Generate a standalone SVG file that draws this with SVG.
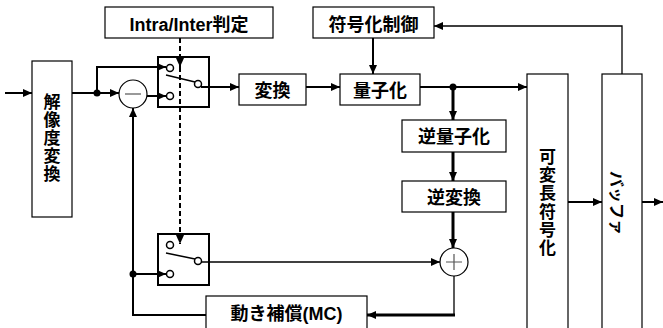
<svg xmlns="http://www.w3.org/2000/svg" width="663" height="328" viewBox="0 0 663 328">
<style>
.box{fill:#fff;stroke:#000;stroke-width:1.2}
.sw{fill:#fff;stroke:#000;stroke-width:2}
.term{fill:#fff;stroke:#000;stroke-width:1.5}
.t{font-family:"Liberation Sans","Noto Sans CJK JP",sans-serif;font-weight:bold;font-size:18px;fill:#000;text-anchor:middle}
.v{font-size:17px}
.w{fill:none;stroke:#000;stroke-width:2}
.k{fill:none;stroke:#000;stroke-width:3}
.n{fill:none;stroke:#000;stroke-width:1.3}
.d{fill:none;stroke:#000;stroke-width:2;stroke-dasharray:5 3}
.dot{fill:#000}
</style>
<defs>
<marker id="ah" markerUnits="userSpaceOnUse" markerWidth="9" markerHeight="8" refX="9" refY="4" orient="auto">
<path d="M0,0 L9,4 L0,8 z" fill="#000"/>
</marker>
</defs>
<rect width="663" height="328" fill="#fff"/>
<g id="kaizoudo">
<rect class="box" x="32" y="61" width="40" height="156"/>
<text class="t v"><tspan x="52" y="108">解</tspan><tspan x="52" y="126">像</tspan><tspan x="52" y="144">度</tspan><tspan x="52" y="162">変</tspan><tspan x="52" y="180">換</tspan></text>
</g>
<g id="intrainter">
<rect class="box" x="105" y="7" width="168" height="31"/>
<text class="t" x="189" y="31">Intra/Inter判定</text>
</g>
<g id="minus">
<circle class="box" cx="133" cy="94" r="14"/>
<path d="M125,94 H141" stroke="#555" stroke-width="1.2"/>
</g>
<g id="switch1">
<rect class="sw" x="158" y="57" width="51" height="50"/>
<path d="M166,75 L195,82" stroke="#000" stroke-width="1.5"/>
<circle class="term" cx="170" cy="68" r="3.5"/>
<circle class="term" cx="170" cy="96" r="3.5"/>
<circle class="term" cx="198" cy="84" r="3.5"/>
</g>
<g id="switch2">
<rect class="sw" x="158" y="234" width="51" height="51"/>
<path d="M166,253 L195,259" stroke="#000" stroke-width="1.5"/>
<circle class="term" cx="170" cy="245" r="3.5"/>
<circle class="term" cx="170" cy="274" r="3.5"/>
<circle class="term" cx="198" cy="261" r="3.5"/>
</g>
<g id="henkan">
<rect class="box" x="239" y="74" width="67" height="31"/>
<text class="t" x="272.5" y="97">変換</text>
</g>
<g id="ryoushika">
<rect class="box" x="340" y="74" width="80" height="31"/>
<text class="t" x="380" y="97">量子化</text>
</g>
<g id="fugoukaseigyo">
<rect class="box" x="313" y="7" width="121" height="31"/>
<text class="t" x="373.5" y="31">符号化制御</text>
</g>
<g id="gyakuryoushika">
<rect class="box" x="402" y="120" width="104" height="32"/>
<text class="t" x="454" y="143">逆量子化</text>
</g>
<g id="gyakuhenkan">
<rect class="box" x="402" y="181" width="104" height="31"/>
<text class="t" x="454" y="204">逆変換</text>
</g>
<g id="plus">
<circle class="box" cx="454" cy="262" r="14"/>
<path d="M446,262 H462 M454,254 V270" stroke="#555" stroke-width="1.2"/>
</g>
<g id="mc">
<rect class="box" x="206" y="296" width="161" height="40"/>
<text class="t" x="286.5" y="320">動き補償(MC)</text>
</g>
<g id="kahenchou">
<rect class="box" x="527" y="74" width="41" height="262"/>
<text class="t v"><tspan x="547.5" y="163">可</tspan><tspan x="547.5" y="181">変</tspan><tspan x="547.5" y="199">長</tspan><tspan x="547.5" y="218">符</tspan><tspan x="547.5" y="236">号</tspan><tspan x="547.5" y="254">化</tspan></text>
</g>
<g id="buffer">
<rect class="box" x="602" y="74" width="40" height="262"/>
<text class="t" style="font-size:16px" transform="translate(617,203) rotate(90)" x="0" y="6">バッファ</text>
</g>
<g id="connectors">
<path class="w" d="M5,93 H32" marker-end="url(#ah)"/>
<path class="w" d="M72,93 H119" marker-end="url(#ah)"/>
<path class="w" d="M97,93 V67 H166" marker-end="url(#ah)"/>
<path class="w" d="M147,96 H166" marker-end="url(#ah)"/>
<path class="w" d="M201,87 H239" marker-end="url(#ah)"/>
<path class="w" d="M306,87 H340" marker-end="url(#ah)"/>
<path class="w" d="M373,38 V74" marker-end="url(#ah)"/>
<path class="w" d="M420,87 H527" marker-end="url(#ah)"/>
<path class="k" d="M453,87 V120" marker-end="url(#ah)"/>
<path class="k" d="M453,152 V181" marker-end="url(#ah)"/>
<path class="k" d="M453,212 V248" marker-end="url(#ah)"/>
<path class="n" d="M454,276 V315"/>
<path class="k" d="M455,315 H367" marker-end="url(#ah)"/>
<path class="w" d="M206,315 H133 V108" marker-end="url(#ah)"/>
<path class="w" d="M133,274 H166" marker-end="url(#ah)"/>
<path class="n" d="M201,262 H440" marker-end="url(#ah)"/>
<path class="w" d="M568,202 H602" marker-end="url(#ah)"/>
<path class="w" d="M642,202 H663" marker-end="url(#ah)"/>
<path class="n" d="M622,74 V26 H434" marker-end="url(#ah)"/>
<path class="d" d="M180,38 V67" marker-end="url(#ah)"/>
<path class="d" d="M180,67 V244" marker-end="url(#ah)"/>
<circle class="dot" cx="97" cy="93" r="3.5"/>
<circle class="dot" cx="453" cy="87" r="3.5"/>
<circle class="dot" cx="133" cy="274" r="3.5"/>
</g>
</svg>
